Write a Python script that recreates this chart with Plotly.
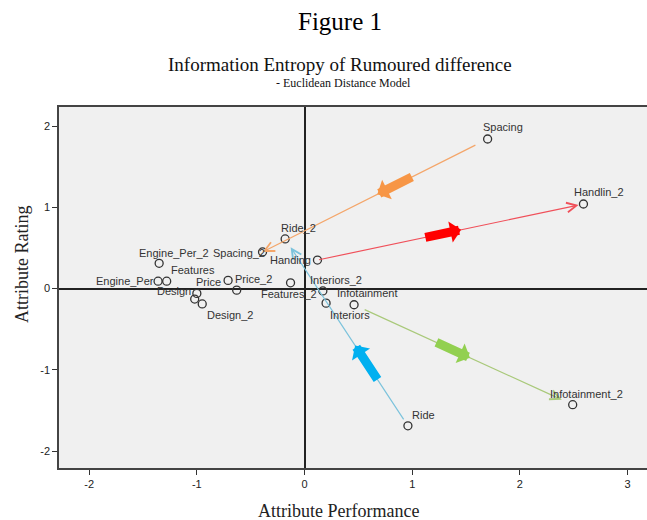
import plotly.graph_objects as go

# ---------------- data ----------------
attributes = ["Spacing", "Spacing_2", "Handing", "Handlin_2", "Ride", "Ride_2",
              "Infotainment", "Infotainment_2", "Interiors", "Interiors_2",
              "Features", "Features_2", "Engine_Per", "Engine_Per_2",
              "Price", "Price_2", "Design", "Design_2", ""]
performance = [1.70, -0.39, 0.12, 2.59, 0.96, -0.18,
               0.46, 2.49, 0.20, 0.17,
               -1.28, -0.13, -1.36, -1.35,
               -0.71, -0.63, -1.00, -0.95, -1.02]
rating = [1.84, 0.45, 0.35, 1.04, -1.69, 0.61,
          -0.20, -1.43, -0.18, -0.03,
          0.09, 0.07, 0.09, 0.31,
          0.10, -0.02, -0.06, -0.19, -0.13]
x_ticks = [-2, -1, 0, 1, 2, 3]
x_tick_labels = ["-2", "-1", "0", "1", "2", "3"]
y_ticks = [-2, -1, 0, 1, 2]
y_tick_labels = ["-2", "-1", "0", "1", "2"]

# arrows: (from, to)
shifts = [("Spacing", "Spacing_2"), ("Handing", "Handlin_2"),
          ("Infotainment", "Infotainment_2"), ("Ride", "Ride_2")]

# ---------------- styling ----------------
line_colors = {"Spacing": "#F4A66A", "Handing": "#F0505A",
               "Infotainment": "#A9C97A", "Ride": "#7CC3DC"}
block_colors = {"Spacing": "#F79646", "Handing": "#FF0000",
                "Infotainment": "#92D050", "Ride": "#00B0F0"}
block_span = {"Spacing": (0.33, 0.49), "Handing": (0.40, 0.54),
              "Infotainment": (0.37, 0.53), "Ride": (0.24, 0.43)}
line_standoff = {"Spacing": (12, 0), "Handing": (0, 5),
                 "Infotainment": (10, 12), "Ride": (6, 10)}

# label placement: (xanchor, xshift, yshift)
label_pos = {
    "Spacing": ("left", -7, 12), "Handlin_2": ("left", -11, 12),
    "Ride": ("left", 2, 11), "Infotainment_2": ("left", -25, 11),
    "Ride_2": ("left", -6, 11), "Spacing_2": ("right", 4, -1),
    "Handing": ("right", -4, 0), "Engine_Per_2": ("left", -22, 10),
    "Features": ("left", 2, 11), "Engine_Per": ("right", -2, 0),
    "Price": ("right", -5, -2), "Price_2": ("left", -4, 11),
    "Design": ("right", -4, 2), "Design_2": ("left", 3, -11),
    "Features_2": ("left", -32, -11), "Interiors_2": ("left", -15, 11),
    "Interiors": ("left", 2, -12), "Infotainment": ("left", -19, 12),
}

idx = {n: i for i, n in enumerate(attributes)}

fig = go.Figure()
fig.add_trace(go.Scatter(
    x=performance, y=rating, mode="markers",
    marker=dict(symbol="circle-open", size=8, color="#333333",
                line=dict(width=1.3, color="#333333")),
    hoverinfo="text", text=attributes, showlegend=False))

annotations = []
for a, b in shifts:
    x0, y0 = performance[idx[a]], rating[idx[a]]
    x1, y1 = performance[idx[b]], rating[idx[b]]
    s0, s1 = line_standoff[a]
    annotations.append(dict(
        x=x1, y=y1, ax=x0, ay=y0, xref="x", yref="y", axref="x", ayref="y",
        text="", showarrow=True, arrowhead=5, arrowsize=1.6, arrowwidth=1.2,
        arrowcolor=line_colors[a], standoff=s1, startstandoff=s0))
    t0, t1 = block_span[a]
    annotations.append(dict(
        x=x0 + (x1 - x0) * t1, y=y0 + (y1 - y0) * t1,
        ax=x0 + (x1 - x0) * t0, ay=y0 + (y1 - y0) * t0,
        xref="x", yref="y", axref="x", ayref="y",
        text="", showarrow=True, arrowhead=1, arrowsize=0.4, arrowwidth=9,
        arrowcolor=block_colors[a]))

for n, px, py in zip(attributes, performance, rating):
    if not n:
        continue
    xa, xs, ys = label_pos[n]
    annotations.append(dict(
        x=px, y=py, xref="x", yref="y", text=n, showarrow=False,
        xanchor=xa, yanchor="middle", xshift=xs, yshift=ys,
        font=dict(family="Liberation Sans, Arial", size=11, color="#333333")))

# titles (plot area spans pixel rows 107..468 and columns 59..647)
def py2paper(py):
    return (468 - py) / 361.0

def px2paper(px):
    return (px - 59) / 588.0

serif = "Liberation Serif, Times New Roman"
annotations += [
    dict(text="Figure 1", x=px2paper(340), y=py2paper(21), xref="paper", yref="paper",
         showarrow=False, xanchor="center", yanchor="middle",
         font=dict(family=serif, size=25, color="#000")),
    dict(text="Information Entropy of Rumoured difference", x=px2paper(340), y=py2paper(64),
         xref="paper", yref="paper", showarrow=False, xanchor="center", yanchor="middle",
         font=dict(family=serif, size=19, color="#111")),
    dict(text="- Euclidean Distance Model", x=px2paper(343), y=py2paper(83),
         xref="paper", yref="paper", showarrow=False, xanchor="center", yanchor="middle",
         font=dict(family=serif, size=12, color="#111")),
    dict(text="Attribute Performance", x=px2paper(338), y=py2paper(511),
         xref="paper", yref="paper", showarrow=False, xanchor="center", yanchor="middle",
         font=dict(family=serif, size=18, color="#222")),
    dict(text="Attribute Rating", x=px2paper(22), y=py2paper(265), textangle=-90,
         xref="paper", yref="paper", showarrow=False, xanchor="center", yanchor="middle",
         font=dict(family=serif, size=18, color="#222")),
]

tickfont = dict(family="Liberation Sans, Arial", size=11, color="#222")
fig.update_layout(
    width=647, height=520,
    margin=dict(l=59, r=0, t=107, b=52, autoexpand=False),
    paper_bgcolor="white", plot_bgcolor="#F0F0F0",
    annotations=annotations,
    xaxis=dict(range=[-2.28, 3.18], tickvals=x_ticks, ticktext=x_tick_labels,
               ticks="outside", ticklen=5,
               tickcolor="#333", showgrid=False, zeroline=True, zerolinecolor="#222",
               zerolinewidth=1.6, showline=True, linecolor="#444", linewidth=1.5,
               mirror=True, automargin=False, tickfont=tickfont),
    yaxis=dict(range=[-2.209, 2.234], tickvals=y_ticks, ticktext=y_tick_labels,
               ticks="outside", ticklen=5,
               tickcolor="#333", showgrid=False, zeroline=True, zerolinecolor="#222",
               zerolinewidth=1.6, showline=True, linecolor="#444", linewidth=1.5,
               automargin=False, tickfont=tickfont),
)

fig.write_html("out.html", config={"displayModeBar": False},
               post_script="document.body.style.margin='0';document.body.style.padding='0';")
